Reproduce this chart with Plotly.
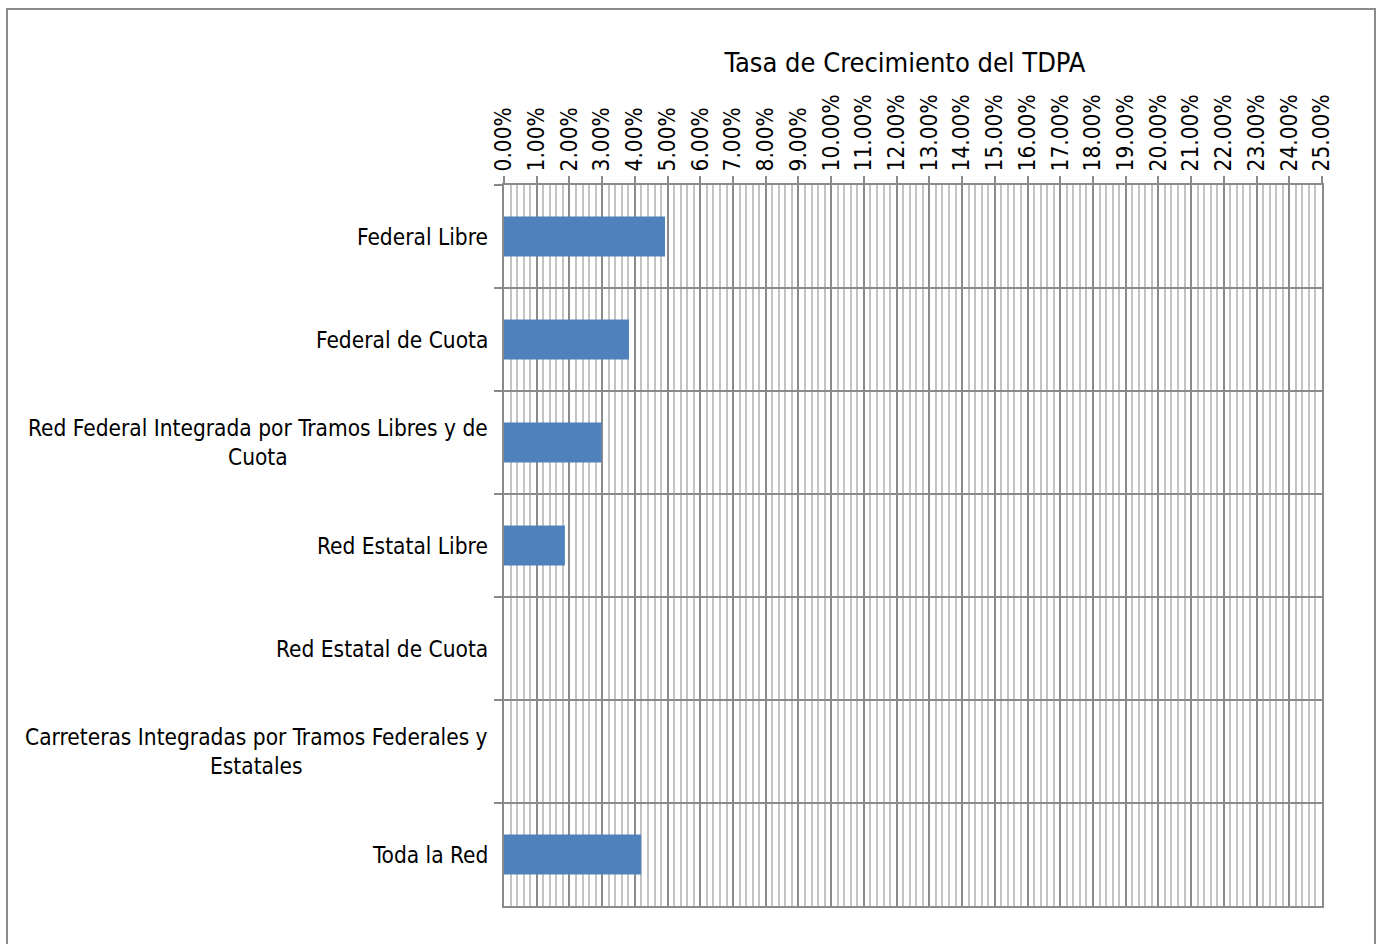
import plotly.graph_objects as go

categories = [
    "Federal Libre",
    "Federal de Cuota",
    "Red Federal Integrada por Tramos Libres y de<br>Cuota",
    "Red Estatal Libre",
    "Red Estatal de Cuota",
    "Carreteras Integradas por Tramos Federales y<br>Estatales",
    "Toda la Red",
]
values = [0.0492, 0.0382, 0.0298, 0.0186, None, None, 0.0419]
title_text = "Tasa de Crecimiento del TDPA"

FONT = "Liberation Sans Narrow, Arial Narrow, DejaVu Sans Condensed, sans-serif"
GRID_MAJOR = "#8a8a8a"
GRID_MINOR = "#c3c3c3"

fig = go.Figure()
fig.add_trace(go.Bar(
    y=categories, x=values, orientation="h",
    marker=dict(color="#4F81BD", line=dict(width=0)),
    width=0.39,
))

for c in categories:
    fig.add_annotation(
        x=-0.017, xref="paper", y=c, yref="y",
        text=c, showarrow=False, xanchor="right", yanchor="middle",
        align="center", font=dict(family=FONT, size=22.5, color="#000"),
    )

fig.update_layout(
    width=1383, height=944,
    margin=dict(l=504, r=61, t=185, b=38),
    paper_bgcolor="white", plot_bgcolor="white",
    showlegend=False,
    title=dict(text=title_text, x=905 / 1383, xanchor="center",
               y=1 - 63 / 944, yanchor="middle",
               font=dict(family=FONT, size=27, color="#000")),
    xaxis=dict(
        side="top", range=[0, 0.25], dtick=0.01, tick0=0,
        tickformat=".2%", tickangle=-90,
        tickfont=dict(family=FONT, size=22.5, color="#000"),
        showgrid=True, gridcolor=GRID_MAJOR, gridwidth=2,
        minor=dict(dtick=0.002, tick0=0, showgrid=True, gridcolor=GRID_MINOR, gridwidth=1.5),
        ticks="outside", ticklen=7, tickcolor=GRID_MAJOR, tickwidth=2,
        showline=True, linecolor=GRID_MAJOR, linewidth=2, mirror=True,
        zeroline=False, fixedrange=True,
    ),
    yaxis=dict(
        type="category", categoryorder="array", categoryarray=categories,
        autorange="reversed",
        tickson="boundaries", showgrid=True, gridcolor=GRID_MAJOR, gridwidth=2,
        ticks="outside", ticklen=8, tickcolor=GRID_MAJOR, tickwidth=2,
        showticklabels=False,
        showline=True, linecolor=GRID_MAJOR, linewidth=2, mirror=True,
        zeroline=False, fixedrange=True,
    ),
)

fig.add_shape(
    type="rect", xref="paper", yref="paper",
    x0=(7 - 504) / 818, x1=(1375 - 504) / 818,
    y0=(906 - 970) / 721, y1=(906 - 9) / 721,
    line=dict(color="#8c8c8c", width=2), fillcolor="rgba(0,0,0,0)", layer="below",
)

fig.write_html(
    "out.html",
    config={"displayModeBar": False},
    post_script="document.body.style.margin='0px'; document.body.style.overflow='hidden';",
)
